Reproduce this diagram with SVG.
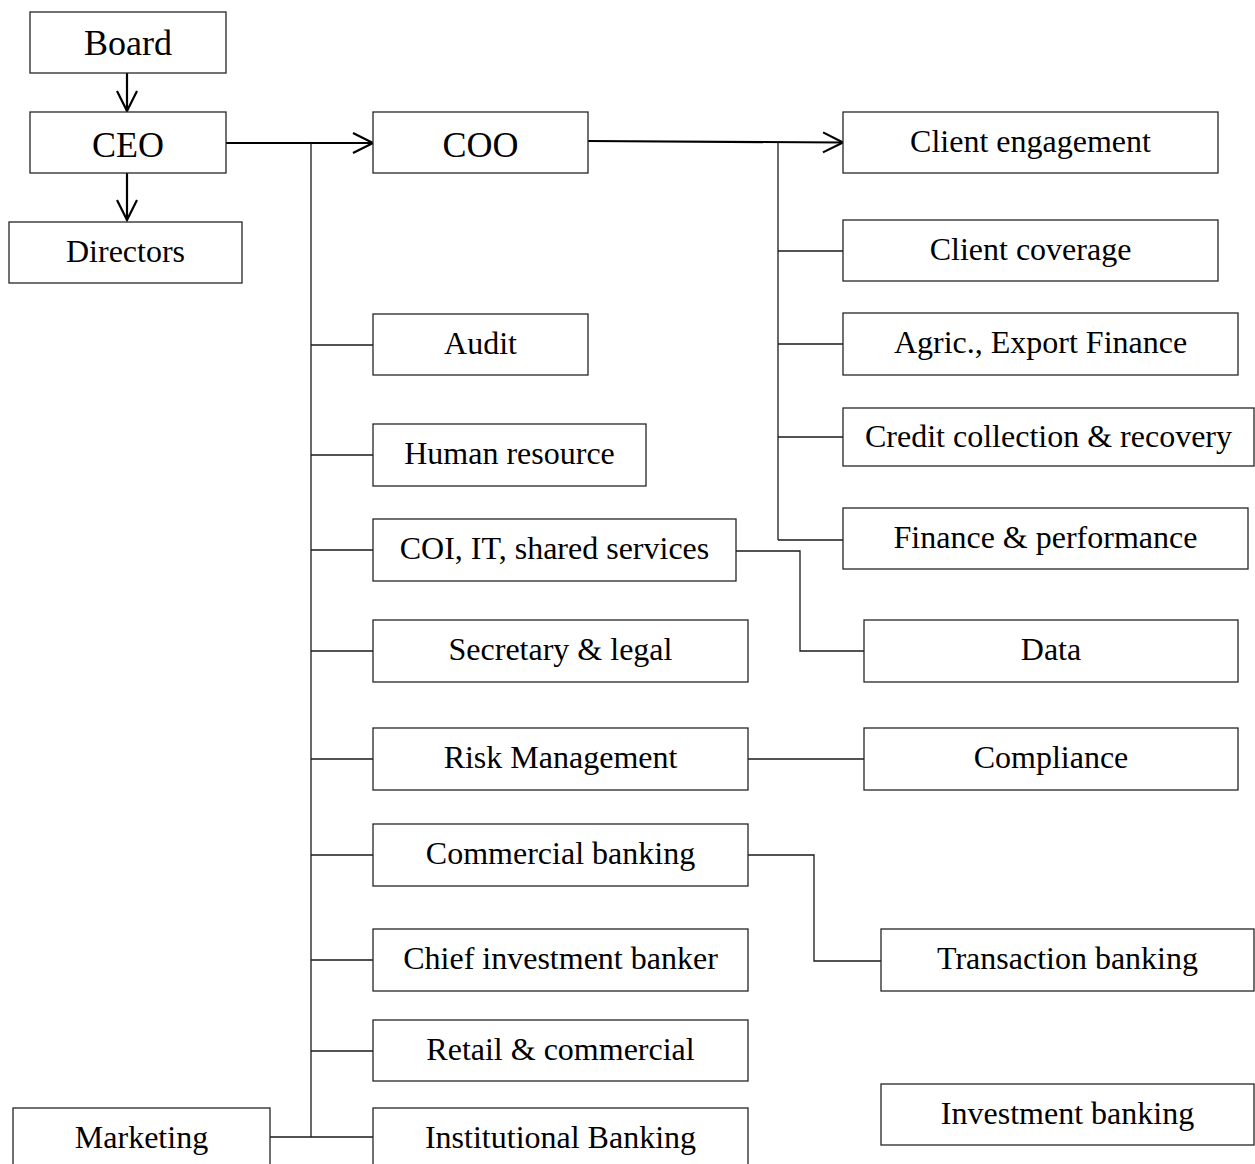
<svg xmlns="http://www.w3.org/2000/svg" width="1255" height="1164" viewBox="0 0 1255 1164">
  <style>
    .box { fill: #ffffff; stroke: #262626; stroke-width: 1.3; }
    .lbl { font-family: "Liberation Serif", "Times New Roman", serif; font-size: 32px; fill: #000000; text-anchor: middle; }
    .big { font-size: 36px; }
    .wire { fill: none; stroke: #1a1a1a; stroke-width: 1.3; }
    .main { fill: none; stroke: #000000; stroke-width: 2.2; }
  </style>
  <defs>
    <marker id="chev" markerUnits="userSpaceOnUse" markerWidth="24" markerHeight="24" refX="20" refY="10" orient="auto" viewBox="-2 -2 24 24">
      <path d="M0,0 L20,10 L0,20" fill="none" stroke="#000000" stroke-width="2.2"/>
    </marker>
  </defs>
  <rect width="1255" height="1164" fill="#ffffff"/>

  <g id="connectors">
    <!-- top chain -->
    <line class="main" x1="127" y1="73" x2="127" y2="111" marker-end="url(#chev)"/>
    <line class="main" x1="127" y1="173" x2="127" y2="220" marker-end="url(#chev)"/>
    <line class="main" x1="226" y1="143" x2="373" y2="143" marker-end="url(#chev)"/>
    <line class="main" x1="588" y1="141" x2="843" y2="142.5" marker-end="url(#chev)"/>
    <!-- CEO trunk -->
    <path class="wire" d="M311,143 V1137"/>
    <path class="wire" d="M311,345 H373 M311,455 H373 M311,550 H373 M311,651 H373 M311,759 H373 M311,855 H373 M311,960 H373 M311,1051 H373 M270,1137 H373"/>
    <!-- COO trunk -->
    <path class="wire" d="M778,142 V540"/>
    <path class="wire" d="M778,251 H843 M778,344 H843 M778,437 H843 M778,540 H843"/>
    <!-- side links -->
    <path class="wire" d="M736,551 H800 V651 H864"/>
    <path class="wire" d="M748,759 H864"/>
    <path class="wire" d="M748,855 H814 V961 H881"/>
  </g>

  <g id="board"><rect class="box" x="30" y="12" width="196" height="61"/><text class="lbl big" x="128" y="55">Board</text></g>
  <g id="ceo"><rect class="box" x="30" y="112" width="196" height="61"/><text class="lbl big" x="128" y="157">CEO</text></g>
  <g id="directors"><rect class="box" x="9" y="222" width="233" height="61"/><text class="lbl" x="125.5" y="262">Directors</text></g>
  <g id="coo"><rect class="box" x="373" y="112" width="215" height="61"/><text class="lbl big" x="480.5" y="157">COO</text></g>

  <g id="client-engagement"><rect class="box" x="843" y="112" width="375" height="61"/><text class="lbl" x="1030.5" y="152">Client engagement</text></g>
  <g id="client-coverage"><rect class="box" x="843" y="220" width="375" height="61"/><text class="lbl" x="1030.5" y="260">Client coverage</text></g>
  <g id="agric-export"><rect class="box" x="843" y="313" width="395" height="62"/><text class="lbl" x="1040.5" y="353">Agric., Export Finance</text></g>
  <g id="credit-collection"><rect class="box" x="843" y="408" width="411" height="58"/><text class="lbl" x="1048.5" y="447">Credit collection &amp; recovery</text></g>
  <g id="finance-performance"><rect class="box" x="843" y="508" width="405" height="61"/><text class="lbl" x="1045.5" y="548">Finance &amp; performance</text></g>

  <g id="audit"><rect class="box" x="373" y="314" width="215" height="61"/><text class="lbl" x="480.5" y="354">Audit</text></g>
  <g id="human-resource"><rect class="box" x="373" y="424" width="273" height="62"/><text class="lbl" x="509.5" y="464">Human resource</text></g>
  <g id="coi-it"><rect class="box" x="373" y="519" width="363" height="62"/><text class="lbl" x="554.5" y="559">COI, IT, shared services</text></g>
  <g id="secretary-legal"><rect class="box" x="373" y="620" width="375" height="62"/><text class="lbl" x="560.5" y="660">Secretary &amp; legal</text></g>
  <g id="risk-management"><rect class="box" x="373" y="728" width="375" height="62"/><text class="lbl" x="560.5" y="768">Risk Management</text></g>
  <g id="commercial-banking"><rect class="box" x="373" y="824" width="375" height="62"/><text class="lbl" x="560.5" y="864">Commercial banking</text></g>
  <g id="chief-investment-banker"><rect class="box" x="373" y="929" width="375" height="62"/><text class="lbl" x="560.5" y="969">Chief investment banker</text></g>
  <g id="retail-commercial"><rect class="box" x="373" y="1020" width="375" height="61"/><text class="lbl" x="560.5" y="1060">Retail &amp; commercial</text></g>
  <g id="institutional-banking"><rect class="box" x="373" y="1108" width="375" height="70"/><text class="lbl" x="560.5" y="1148">Institutional Banking</text></g>
  <g id="marketing"><rect class="box" x="13" y="1108" width="257" height="70"/><text class="lbl" x="141.5" y="1148">Marketing</text></g>

  <g id="data"><rect class="box" x="864" y="620" width="374" height="62"/><text class="lbl" x="1051" y="660">Data</text></g>
  <g id="compliance"><rect class="box" x="864" y="728" width="374" height="62"/><text class="lbl" x="1051" y="768">Compliance</text></g>
  <g id="transaction-banking"><rect class="box" x="881" y="929" width="373" height="62"/><text class="lbl" x="1067.5" y="969">Transaction banking</text></g>
  <g id="investment-banking"><rect class="box" x="881" y="1084" width="373" height="61"/><text class="lbl" x="1067.5" y="1124">Investment banking</text></g>
</svg>
